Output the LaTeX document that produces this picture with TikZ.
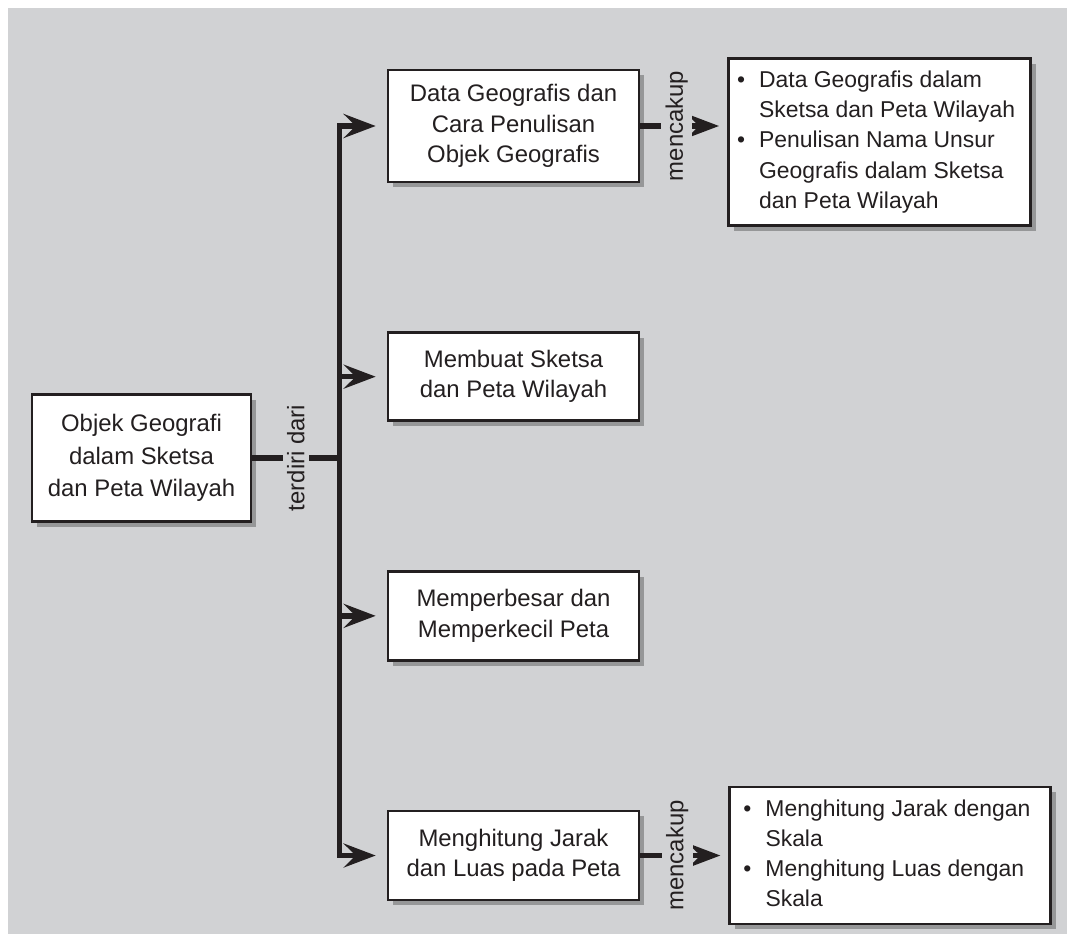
\documentclass[tikz,border=0pt]{standalone}
\usepackage{fontspec}
\setmainfont{Liberation Sans}
\usetikzlibrary{arrows.meta,positioning,calc,shadows}
\definecolor{bg}{HTML}{D1D2D4}
\definecolor{ink}{HTML}{231F20}
\newcommand{\boxfont}{\fontsize{17}{21.5}\selectfont}

\begin{document}
\begin{tikzpicture}[
    font=\boxfont,
    node distance=3.7cm,
    topic/.style={
        rectangle, draw=ink, line width=1.9pt,
        fill=white, text=ink,
        minimum width=6.275cm, minimum height=2.225cm,
        align=center,
        drop shadow={shadow xshift=0.13cm, shadow yshift=-0.13cm, fill=black, opacity=0.28},
    },
    rootbox/.style={topic, minimum width=5.475cm, minimum height=3.175cm, font=\fontsize{17}{23}\selectfont},
    listbox/.style={topic, inner sep=0.2cm, font=\fontsize{16.3}{21.5}\selectfont},
    trunk/.style={line width=4pt, draw=ink},
    arrow/.style={trunk, -{Stealth[length=8mm,width=6mm,inset=3mm]}},
    linklabel/.style={rotate=90, fill=bg, inner sep=1.1mm, text=ink},
]

% Background
\fill[white] (0,0) rectangle (26.675,-23.35);
\fill[bg] (0.2,-0.2) rectangle (26.675,-23.35);

% =============================================================
% ROOT
% =============================================================
\node[rootbox] (root) at (3.5375,-11.45) {
    Objek Geografi\\dalam Sketsa\\dan Peta Wilayah
};

% =============================================================
% MIDDLE COLUMN
% =============================================================
\node[topic, minimum height=2.8cm] (data) at (12.8375,-3.15) {
    Data Geografis dan\\Cara Penulisan\\Objek Geografis
};
\node[topic, minimum height=2.2cm, below=of data] (sketsa) {
    Membuat Sketsa\\dan Peta Wilayah
};
\node[topic, below=of sketsa] (skala) {
    Memperbesar dan\\Memperkecil Peta
};
\node[topic, below=of skala] (hitung) {
    Menghitung Jarak\\dan Luas pada Peta
};

% Branching trunk
\coordinate[right=2.175cm of root.east] (split);
\draw[trunk] (root.east) -- node[linklabel] {terdiri dari} (split);
\foreach \n in {data,sketsa,skala,hitung}
    \draw[arrow, shorten >=0.275cm] (split) |- (\n);

% =============================================================
% RIGHT COLUMN: what each topic covers
% =============================================================
\node[listbox, anchor=north west, minimum width=7.55cm, minimum height=4.125cm]
    (listA) at (18.175,-1.425) {
    \begin{tabular}{@{}l@{\hspace{0.35cm}}l@{}}
        \textbullet & Data Geografis dalam \\
                    & Sketsa dan Peta Wilayah \\
        \textbullet & Penulisan Nama Unsur \\
                    & Geografis dalam Sketsa \\
                    & dan Peta Wilayah \\
    \end{tabular}
};
\node[listbox, right=2.2cm of hitung, minimum width=8.025cm, minimum height=3.1cm]
    (listB) {
    \begin{tabular}{@{}l@{\hspace{0.35cm}}l@{}}
        \textbullet & Menghitung Jarak dengan \\
                    & Skala \\
        \textbullet & Menghitung Luas dengan \\
                    & Skala \\
    \end{tabular}
};

\draw[arrow, shorten >=0.2cm] (data.east) -- node[linklabel, pos=0.42] {mencakup} (data.east -| listA.west);
\draw[arrow, shorten >=0.2cm] (hitung.east) -- node[linklabel, pos=0.42] {mencakup} (hitung.east -| listB.west);

\end{tikzpicture}
\end{document}
